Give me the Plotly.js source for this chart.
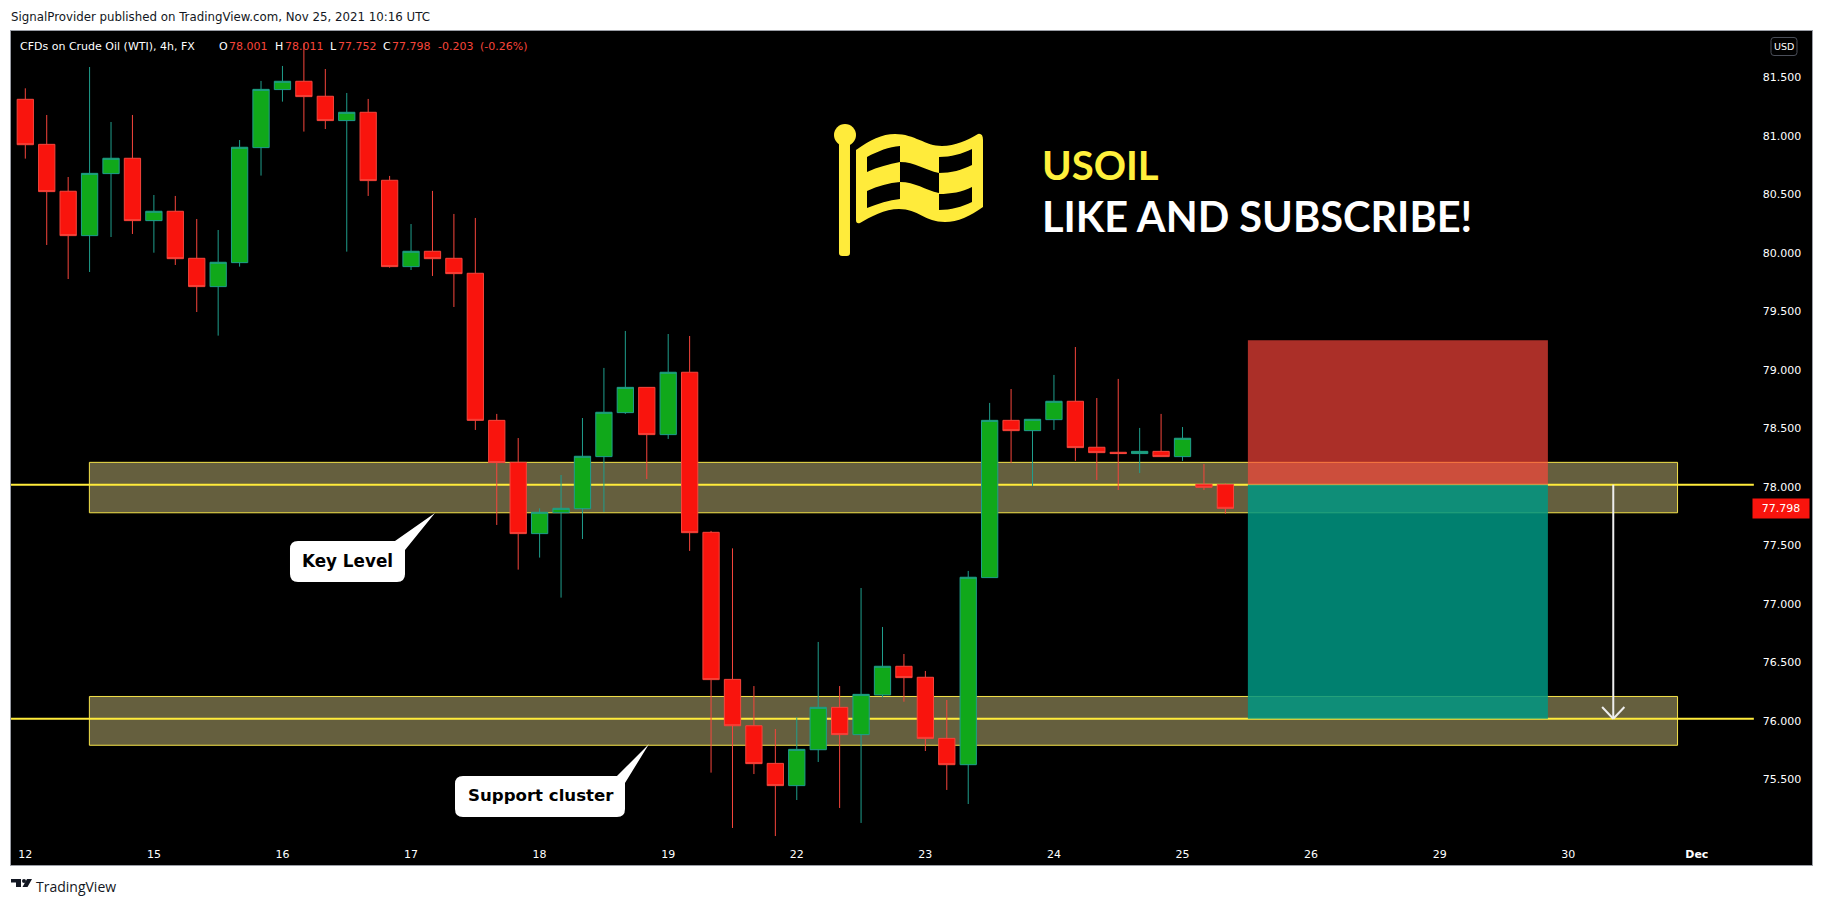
<!DOCTYPE html>
<html>
<head>
<meta charset="utf-8">
<script src="https://cdn.plot.ly/plotly-3.0.1.min.js"></script>
<style>html,body{margin:0;padding:0;background:#fff;overflow:hidden}#chart{width:1824px;height:905px}</style>
</head>
<body>
<div id="chart"></div>
<script>
// --- Data (4h USOIL bars) ---
const opens  = [81.294,80.909,80.508,80.129,80.659,80.790,80.257,80.337,79.935,79.693,79.898,80.881,81.377,81.448,81.320,81.112,81.183,80.602,79.864,79.995,79.935,79.807,78.550,78.191,77.582,77.761,77.795,78.240,78.616,78.832,78.428,78.961,77.593,76.336,75.940,75.618,75.428,75.735,76.097,75.864,76.203,76.448,76.354,75.832,75.607,77.206,78.550,78.462,78.556,78.713,78.320,78.277,78.266,78.285,78.240,78.003,78.001];
const highs  = [81.388,81.160,80.630,81.570,81.100,81.160,80.476,80.468,80.271,80.177,80.946,81.451,81.579,81.773,81.553,81.348,81.297,80.639,80.228,80.511,80.314,80.280,78.605,78.399,77.798,78.083,78.570,78.998,79.314,78.832,79.288,79.271,77.605,77.456,76.279,75.912,76.012,76.656,76.279,77.117,76.784,76.553,76.408,76.160,77.263,78.699,78.818,78.559,78.938,79.177,78.741,78.904,78.485,78.605,78.493,78.177,78.011];
const lows   = [80.787,80.049,79.758,79.818,80.117,80.143,79.983,79.878,79.476,79.274,79.864,80.642,81.274,81.018,81.040,79.992,80.468,79.855,79.835,79.784,79.519,78.468,77.656,77.274,77.377,77.035,77.536,77.767,78.605,78.049,78.391,77.434,75.539,75.066,75.527,74.997,75.305,75.630,75.237,75.109,76.183,76.145,75.724,75.391,75.271,77.206,78.186,77.989,78.468,78.203,78.040,77.955,78.100,78.240,78.203,77.955,77.752];
const closes = [80.906,80.505,80.129,80.661,80.790,80.257,80.337,79.932,79.693,79.901,80.884,81.379,81.448,81.317,81.112,81.183,80.599,79.864,79.995,79.932,79.804,78.550,78.189,77.582,77.764,77.798,78.243,78.619,78.832,78.428,78.961,77.590,76.334,75.940,75.616,75.428,75.738,76.097,75.864,76.208,76.448,76.351,75.832,75.607,77.209,78.550,78.462,78.559,78.713,78.317,78.274,78.266,78.285,78.240,78.397,77.978,77.798];
const barIndex = opens.map((_, i) => i);

const dayTickBars   = [0,6,12,18,24,30,36,42,48,54,60,66,72,78];
const dayTickLabels = ['12','15','16','17','18','19','22','23','24','25','26','29','30','<b>Dec</b>'];
const priceTicks      = [75.5,76,76.5,77,77.5,78,78.5,79,79.5,80,80.5,81,81.5];
const priceTickLabels = ['75.500','76.000','76.500','77.000','77.500','78.000','78.500','79.000','79.500','80.000','80.500','81.000','81.500'];

const keyLevels = [78, 76];
const zoneTops = [78.191, 76.19];
const zoneBottoms = [77.76, 75.773];
const zoneBarStart = 2.99, zoneBarEnd = 77.1;
const levelBarEnd = 80.66;
const riskBox = {x0: 57.05, x1: 71.05, top: 79.235, entry: 78, target: 76};
const arrowBar = 74.1;
const lastPrice = 77.798;

const publishedText = 'SignalProvider published on TradingView.com, Nov 25, 2021 10:16 UTC';
const legendLabels = ['CFDs on Crude Oil (WTI), 4h, FX','O','H','L','C'];
const legendValues = ['78.001','78.011','77.752','77.798'];

// --- Page geometry ---
const W = 1824, H = 905, PL = 11, PR = 1812, PT = 31, PB = 865;
const X = px => (px - PL) / (PR - PL);
const Y = py => 1 - (py - PT) / (PB - PT);
const toPaper = s => s.replace(/(-?[\d.]+) (-?[\d.]+)/g, (m, a, b) => X(+a).toFixed(5) + ' ' + Y(+b).toFixed(5));

const YEL = '#ffeb3b', ZONE = '#655f3e';
const shapes = [];
// zones
zoneTops.forEach((t, k) => shapes.push({type:'rect',layer:'below',xref:'x',yref:'y',x0:zoneBarStart,x1:zoneBarEnd,y0:zoneBottoms[k],y1:t,fillcolor:ZONE,line:{color:'#f5e34a',width:1}}));
// key levels
keyLevels.forEach(v => shapes.push({type:'line',layer:'below',xref:'x',yref:'y',x0:-0.67,x1:levelBarEnd,y0:v,y1:v,line:{color:YEL,width:2}}));
// risk / reward boxes
shapes.push({type:'rect',layer:'below',xref:'x',yref:'y',x0:riskBox.x0,x1:riskBox.x1,y0:riskBox.entry,y1:riskBox.top,fillcolor:'rgba(255,70,60,0.67)',line:{width:0}});
shapes.push({type:'rect',layer:'below',xref:'x',yref:'y',x0:riskBox.x0,x1:riskBox.x1,y0:riskBox.target,y1:riskBox.entry,fillcolor:'rgba(0,150,131,0.85)',line:{width:0}});
// arrow
shapes.push({type:'line',xref:'x',yref:'y',x0:arrowBar,x1:arrowBar,y0:78,y1:76,line:{color:'#eeeeee',width:2}});
shapes.push({type:'line',xref:'x',yref:'y',x0:arrowBar-0.52,x1:arrowBar,y0:76.1,y1:76,line:{color:'#eeeeee',width:2}});
shapes.push({type:'line',xref:'x',yref:'y',x0:arrowBar+0.52,x1:arrowBar,y0:76.1,y1:76,line:{color:'#eeeeee',width:2}});

const paperPath = (d, fill, extra) => Object.assign({type:'path',xref:'paper',yref:'paper',path:toPaper(d),fillcolor:fill,line:{width:0}}, extra||{});
// callouts
shapes.push(paperPath('M298 541 L395 541 L435 513 L405 550 L405 574 Q405 582 397 582 L298 582 Q290 582 290 574 L290 549 Q290 541 298 541 Z','#ffffff'));
shapes.push(paperPath('M463 776 L617 776 L649 744 L625 783 L625 809 Q625 817 617 817 L463 817 Q455 817 455 809 L455 784 Q455 776 463 776 Z','#ffffff'));
// flag icon
const YF = '#ffeb3b';
shapes.push({type:'circle',xref:'paper',yref:'paper',x0:X(834),x1:X(856),y0:Y(146),y1:Y(124),fillcolor:YF,line:{width:0}});
shapes.push(paperPath('M839 140 L850 140 L850 253 Q850 256 847 256 L842 256 Q839 256 839 253 Z',YF));
shapes.push(paperPath(
 'M856 150 C 870 140 882 134 895 134 C 915 134 925 146 942 146 C 955 146 968 140 978 134 Q 983 133 983 140 L 983 207 C 970 216 958 222 945 222 C 925 222 918 209 899 209 C 885 209 870 217 860 223 Q 856 224 856 220 Z ' +
 'M867 157 C 878 151 889 147 900 146 L 900 162 C 889 164 878 167 867 172 Z ' +
 'M939 157 C 951 157 962 154 972 149 L 972 165 C 962 170 951 173 939 173 Z ' +
 'M900 162 C 915 162 925 170 939 173 L 939 193 C 925 190 915 182 900 182 Z ' +
 'M867 191 C 878 186 889 183 900 182 L 900 199 C 889 200 878 204 867 208 Z ' +
 'M939 194 C 951 194 962 192 972 187 L 972 202 C 962 207 951 210 939 210 Z',
 YF,{fillrule:'evenodd'}));
// USD badge
shapes.push({type:'path',xref:'paper',yref:'paper',path:toPaper('M1774 37.5 L1794 37.5 Q1797 37.5 1797 40.5 L1797 52.5 Q1797 55.5 1794 55.5 L1774 55.5 Q1771 55.5 1771 52.5 L1771 40.5 Q1771 37.5 1774 37.5 Z'),line:{color:'#4a4e59',width:1}});
// TradingView logo
shapes.push(paperPath('M11 879 L21 879 L21 887 L16 887 L16 882.5 L11 882.5 Z','#131722'));
shapes.push({type:'circle',xref:'paper',yref:'paper',x0:X(22),x1:X(26),y0:Y(883),y1:Y(879),fillcolor:'#131722',line:{width:0}});
shapes.push(paperPath('M27 879 L32 879 L27.5 887 L22.5 887 Z','#131722'));

const UI = 'DejaVu Sans, sans-serif';
const note = (px, py, text, size, color, extra) => Object.assign({xref:'paper',yref:'paper',x:X(px),y:Y(py),xanchor:'left',yanchor:'middle',text,showarrow:false,font:{family:UI,size,color}}, extra||{});
const RED = '#f7453a';
const LEG = 11;
const annotations = [
  note(9,17,publishedText,11.8,'#131722'),
  note(18,46.5,legendLabels[0],LEG,'#ffffff'),
  note(217,46.5,legendLabels[1],LEG,'#ffffff'), note(227,46.5,legendValues[0],LEG,RED),
  note(273,46.5,legendLabels[2],LEG,'#ffffff'), note(283,46.5,legendValues[1],LEG,RED),
  note(328,46.5,legendLabels[3],LEG,'#ffffff'), note(336,46.5,legendValues[2],LEG,RED),
  note(381,46.5,legendLabels[4],LEG,'#ffffff'), note(390,46.5,legendValues[3],LEG,RED),
  note(436,46.5,'-0.203',LEG,RED), note(478,46.5,'(-0.26%)',LEG,RED),
  note(1784,46.5,'USD',9.5,'#ffffff',{xanchor:'center'}),
  note(1040,165,'<b>USOIL</b>',40,'#fff03c',{font:{family:'Lato, sans-serif',size:40,color:'#fff03c'}}),
  note(1040,216,'<b>LIKE AND SUBSCRIBE!</b>',41.5,'#ffffff',{font:{family:'Lato, sans-serif',size:41.5,color:'#ffffff'}}),
  note(347.5,561,'<b>Key Level</b>',16.8,'#000000',{xanchor:'center'}),
  note(540.5,795.5,'<b>Support cluster</b>',16.6,'#000000',{xanchor:'center'}),
  note(34,886,'TradingView',13,'#131722',{font:{family:'Open Sans, sans-serif',size:14,color:'#131722'}}),
  {xref:'paper',yref:'y',x:X(1781),y:lastPrice,xanchor:'center',yanchor:'middle',text:'77.798',showarrow:false,font:{family:UI,size:11,color:'#ffffff'},bgcolor:'#f9140d',width:54,height:17}
];

const candle = {
  type:'candlestick', x:barIndex, open:opens, high:highs, low:lows, close:closes,
  whiskerwidth:0,
  increasing:{line:{color:'#1f9e8c',width:1},fillcolor:'#10a81a'},
  decreasing:{line:{color:'#f6453c',width:1},fillcolor:'#f9140d'},
  hoverinfo:'skip', showlegend:false
};

const layout = {
  width:W, height:H, autosize:false,
  paper_bgcolor:'#ffffff', plot_bgcolor:'#000000',
  margin:{l:PL,r:W-PR,t:PT,b:H-PB,pad:0},
  boxgap:0.24, boxgroupgap:0, showlegend:false,
  xaxis:{type:'linear',range:[(PL-25.3)/21.43,(PR-25.3)/21.43],tickmode:'array',tickvals:dayTickBars,ticktext:dayTickLabels,
    ticklabelposition:'inside',ticks:'',ticklen:0,ticklabelstandoff:4,showgrid:false,zeroline:false,showline:true,mirror:true,linecolor:'#9a9da5',linewidth:1,
    tickfont:{family:UI,size:11,color:'#ffffff'},tickangle:0,rangeslider:{visible:false},fixedrange:true},
  yaxis:{type:'linear',side:'right',range:[78-(PB-484.7)/117,78+(484.7-PT)/117],tickmode:'array',tickvals:priceTicks,ticktext:priceTickLabels,
    ticklabelposition:'inside',ticks:'',ticklen:0,ticklabelstandoff:10,ticklabelshift:2,showgrid:false,zeroline:false,showline:true,mirror:true,linecolor:'#9a9da5',linewidth:1,
    tickfont:{family:UI,size:11,color:'#ffffff'},fixedrange:true},
  shapes, annotations
};
Plotly.newPlot('chart',[candle],layout,{displayModeBar:false,staticPlot:true});
</script>
</body>
</html>
